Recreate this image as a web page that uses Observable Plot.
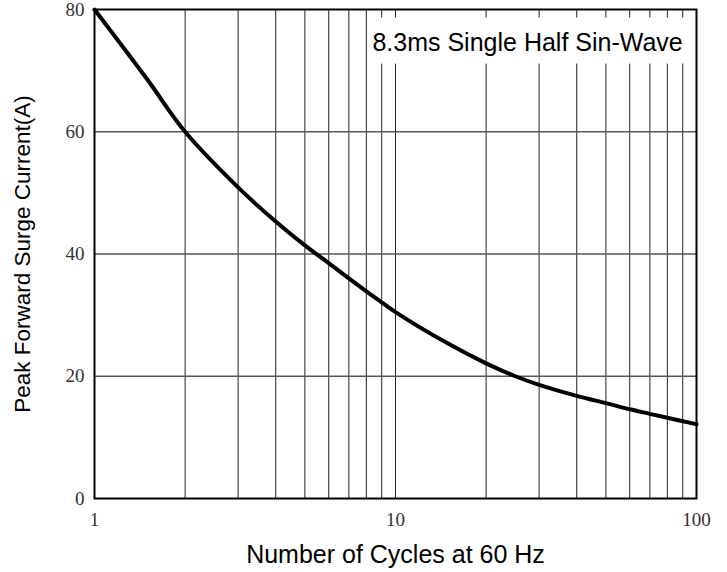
<!DOCTYPE html>
<html>
<head>
<meta charset="utf-8">
<script src="https://cdn.jsdelivr.net/npm/d3@7"></script>
<script src="https://cdn.jsdelivr.net/npm/@observablehq/plot@0.6"></script>
<style>
  html, body { margin: 0; padding: 0; background: #fff; }
  #chart svg { display: block; }
  #chart [aria-label="x-axis tick label"] text,
  #chart [aria-label="y-axis tick label"] text { font-family: "Liberation Serif", serif; fill: #333; }
  #chart [aria-label="x-axis label"] text,
  #chart [aria-label="y-axis label"] text { font-family: "Liberation Sans", Arial, sans-serif; fill: #000; }
</style>
</head>
<body>
<div id="chart"></div>
<script>
// Number of cycles at 60 Hz
const cycles = [1, 1.5, 2, 3, 4, 5, 6, 7, 8, 9, 10, 15, 20, 25, 30, 40, 50, 60, 70, 80, 90, 100];
// Peak forward surge current (A)
const current = [80, 68.5, 60, 50.9, 45.3, 41.4, 38.5, 36.0, 33.9, 32.1, 30.5, 25.3, 22.1, 20.0, 18.6, 16.8, 15.6, 14.6, 13.85, 13.2, 12.65, 12.15];

const xGrid = [2, 3, 4, 5, 6, 7, 8, 9, 10, 20, 30, 40, 50, 60, 70, 80, 90];
const yGrid = [20, 40, 60];
const xTicks = [1, 10, 100];
const yTicks = [0, 20, 40, 60, 80];

const xTitle = "Number of Cycles at 60 Hz";
const yTitle = "Peak Forward Surge Current(A)";
const note = ["8.3ms Single Half Sin-Wave"];
const noteX = [90];
const noteY = [74.6];

const curve = cycles.map((c, i) => ({c, a: current[i]}));

const chart = Plot.plot({
  width: 727,
  height: 572,
  marginLeft: 94,
  marginRight: 31,
  marginTop: 9,
  marginBottom: 74,
  style: {fontFamily: "Liberation Serif, serif", background: "#fff"},
  x: {type: "log", domain: [1, 100]},
  y: {domain: [0, 80]},
  marks: [
    Plot.ruleX(xGrid, {stroke: "#222", strokeWidth: 1}),
    Plot.ruleY(yGrid, {stroke: "#555", strokeWidth: 1.3}),
    Plot.axisX(xTicks, {
      tickSize: 0, tickPadding: 14, fontSize: 19, tickFormat: d => String(d),
      label: xTitle, labelAnchor: "center", labelArrow: "none", labelOffset: 64
    }),
    Plot.axisY(yTicks, {
      tickSize: 0, tickPadding: 10, fontSize: 19,
      label: yTitle, labelAnchor: "center", labelArrow: "none", labelOffset: 80
    }),
    Plot.text(note, {
      x: (d, i) => noteX[i], y: (d, i) => noteY[i], text: d => d,
      textAnchor: "end", lineAnchor: "middle", fontSize: 25,
      fontFamily: "Liberation Sans, Arial, sans-serif", fill: "#000",
      className: "note"
    }),
    Plot.line(curve, {x: "c", y: "a", stroke: "#000", strokeWidth: 4, curve: "catmull-rom"}),
    Plot.frame({stroke: "#000", strokeWidth: 2})
  ]
});

document.getElementById("chart").appendChild(chart);

// label font sizes
chart.querySelectorAll('[aria-label="x-axis label"] text').forEach(t => t.setAttribute("font-size", 25));
chart.querySelectorAll('[aria-label="y-axis label"] text').forEach(t => t.setAttribute("font-size", 22.5));

// white box behind the annotation text, sized from the rendered text
chart.querySelectorAll(".note text").forEach(t => {
  const b = t.getBBox();
  const r = document.createElementNS("http://www.w3.org/2000/svg", "rect");
  r.setAttribute("x", b.x - 4);
  r.setAttribute("y", b.y - 10);
  r.setAttribute("width", b.width + 8);
  r.setAttribute("height", b.height + 18);
  r.setAttribute("fill", "#fff");
  const tr = t.getAttribute("transform");
  if (tr) r.setAttribute("transform", tr);
  t.parentNode.insertBefore(r, t);
});
</script>
</body>
</html>
